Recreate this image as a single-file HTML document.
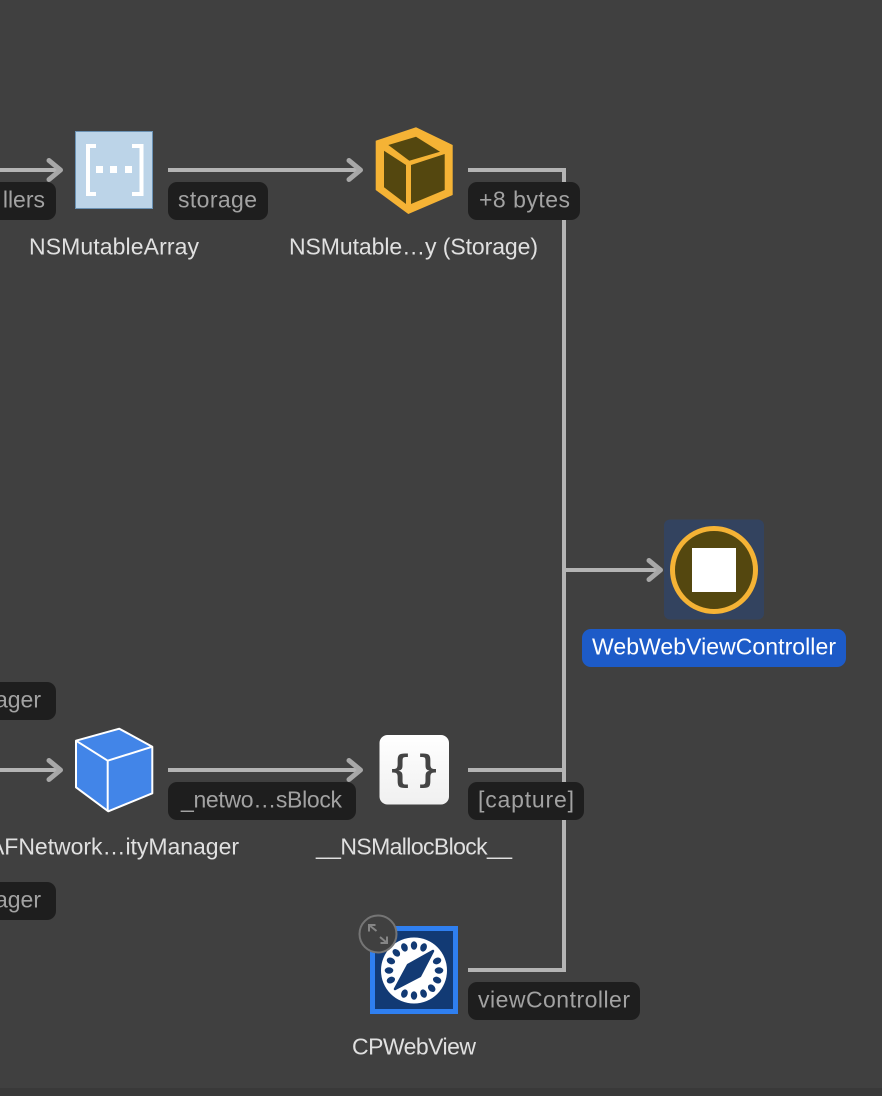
<!DOCTYPE html>
<html>
<head>
<meta charset="utf-8">
<style>
html,body{margin:0;padding:0;background:#404040;width:882px;height:1096px;overflow:hidden}
svg{display:block}
text{font-family:"Liberation Sans",sans-serif;font-size:23px}
.n{fill:#e0e0e0}
.l{fill:#a2a2a2}
.p{fill:#1e1e1e}
.w{fill:none;stroke:#b4b4b4;stroke-width:4}
.h{fill:none;stroke:#a8a8a8;stroke-width:5;stroke-linecap:round;stroke-linejoin:round}
</style>
</head>
<body>
<svg width="882" height="1096" viewBox="0 0 882 1096" xmlns="http://www.w3.org/2000/svg">
<defs>
<linearGradient id="b" x1="0" y1="0" x2="0" y2="1"><stop offset="0" stop-color="#ffffff"/><stop offset="1" stop-color="#f0f0f0"/></linearGradient>
</defs>
<rect width="882" height="1096" fill="#404040"/>
<rect y="1088" width="882" height="8" fill="#393939"/>

<!-- connectors -->
<path class="w" d="M0 170H60"/>
<path class="h" d="M49 160.5L60.5 170L49 179.5"/>
<path class="w" d="M168 170H360"/>
<path class="h" d="M349 160.5L360.5 170L349 179.5"/>
<path class="w" d="M468 170H564V970H468"/>
<path class="w" d="M564 570H660"/>
<path class="h" d="M649 560.5L660.5 570L649 579.5"/>
<path class="w" d="M0 770H60"/>
<path class="h" d="M49 760.5L60.5 770L49 779.5"/>
<path class="w" d="M168 770H360"/>
<path class="h" d="M349 760.5L360.5 770L349 779.5"/>
<path class="w" d="M468 770H564"/>

<!-- NSMutableArray -->
<rect x="75.5" y="131.5" width="77" height="77" fill="#bcd4e8" stroke="#6b92b4" stroke-width="1"/>
<path d="M96 146H88V194H96M132 146H141.5V194H132" fill="none" stroke="#fff" stroke-width="4"/>
<rect x="96" y="166" width="7" height="7" fill="#fff"/>
<rect x="110" y="166" width="7" height="7" fill="#fff"/>
<rect x="125" y="166" width="7" height="7" fill="#fff"/>

<!-- Storage cube -->
<polygon points="416,127.3 452.7,145 452.7,195 408.3,214 375.7,190 375.7,140.7" fill="#f5b335"/>
<polygon points="388.3,145 416,136.7 440,151.7 409.3,160.7" fill="#54470f"/>
<polygon points="384,150.7 406,165 406,204 384,187.3" fill="#54470f"/>
<polygon points="411,165 444.7,154 444.7,190 411,204" fill="#54470f"/>

<!-- WebWebViewController -->
<rect x="664" y="519.5" width="100" height="100" rx="6" fill="#33435f"/>
<circle cx="714" cy="570" r="41.5" fill="#54470f" stroke="#f5b335" stroke-width="5"/>
<rect x="692" y="548" width="44" height="44" fill="#fff"/>
<rect x="582" y="629" width="264" height="38" rx="9" fill="#1d5bc8"/>
<text x="592" y="654.5" fill="#fff" textLength="244" lengthAdjust="spacing">WebWebViewController</text>

<!-- AF cube -->
<polygon points="119.3,728.7 152.3,746.7 152.3,793.3 108.3,811.3 76,787.3 76,740.7" fill="#4285e8" stroke="#fff" stroke-width="2" stroke-linejoin="round"/>
<path d="M76 740.7L107.7 760.7L152.3 746.7M107.7 760.7V811.3" fill="none" stroke="#fff" stroke-width="2"/>

<!-- Block -->
<rect x="379.5" y="735" width="69.5" height="69.5" rx="8" fill="url(#b)"/>
<text x="400" y="782" text-anchor="middle" style="font-family:'DejaVu Sans Mono',monospace;font-size:37px;font-weight:bold" fill="#444">{</text>
<text x="428" y="782" text-anchor="middle" style="font-family:'DejaVu Sans Mono',monospace;font-size:37px;font-weight:bold" fill="#444">}</text>

<!-- CPWebView -->
<rect x="372.5" y="928.5" width="83" height="83" fill="#123a74" stroke="#2f7ff0" stroke-width="5"/>
<circle cx="414" cy="970.5" r="33" fill="#fff"/>
<g fill="#123a74">
<ellipse cx="414" cy="945.5" rx="3.2" ry="4.3"/>
<ellipse cx="414" cy="945.5" rx="3.2" ry="4.3" transform="rotate(22.5 414 970.5)"/>
<ellipse cx="414" cy="945.5" rx="3.2" ry="4.3" transform="rotate(67.5 414 970.5)"/>
<ellipse cx="414" cy="945.5" rx="3.2" ry="4.3" transform="rotate(90 414 970.5)"/>
<ellipse cx="414" cy="945.5" rx="3.2" ry="4.3" transform="rotate(112.5 414 970.5)"/>
<ellipse cx="414" cy="945.5" rx="3.2" ry="4.3" transform="rotate(135 414 970.5)"/>
<ellipse cx="414" cy="945.5" rx="3.2" ry="4.3" transform="rotate(157.5 414 970.5)"/>
<ellipse cx="414" cy="945.5" rx="3.2" ry="4.3" transform="rotate(180 414 970.5)"/>
<ellipse cx="414" cy="945.5" rx="3.2" ry="4.3" transform="rotate(202.5 414 970.5)"/>
<ellipse cx="414" cy="945.5" rx="3.2" ry="4.3" transform="rotate(247.5 414 970.5)"/>
<ellipse cx="414" cy="945.5" rx="3.2" ry="4.3" transform="rotate(270 414 970.5)"/>
<ellipse cx="414" cy="945.5" rx="3.2" ry="4.3" transform="rotate(292.5 414 970.5)"/>
<ellipse cx="414" cy="945.5" rx="3.2" ry="4.3" transform="rotate(315 414 970.5)"/>
<ellipse cx="414" cy="945.5" rx="3.2" ry="4.3" transform="rotate(337.5 414 970.5)"/>
<polygon points="433,951 420,976 395,989 408,965" stroke="#123a74" stroke-width="2.5" stroke-linejoin="round"/>
</g>
<circle cx="378" cy="934" r="18.5" fill="#404040" stroke="#757575" stroke-width="2"/>
<path d="M369 925L376.5 931M369 931.5V925H375.5M387 943L380 937M387 936.5V943H380.5" fill="none" stroke="#858585" stroke-width="2"/>

<!-- edge labels -->
<rect x="-20" y="182" width="76" height="38" rx="9" class="p"/>
<text x="45" y="207.5" text-anchor="end" class="l">llers</text>
<rect x="168" y="182" width="100" height="38" rx="9" class="p"/>
<text x="178" y="207.5" class="l" textLength="79" lengthAdjust="spacing">storage</text>
<rect x="468" y="182" width="112" height="38" rx="9" class="p"/>
<text x="479" y="207.5" class="l" textLength="91" lengthAdjust="spacing">+8 bytes</text>
<rect x="-20" y="682" width="76" height="38" rx="9" class="p"/>
<text x="41" y="707.5" text-anchor="end" class="l">ager</text>
<rect x="168" y="782" width="188" height="38" rx="9" class="p"/>
<text x="181" y="807.5" class="l" textLength="161" lengthAdjust="spacing">_netwo…sBlock</text>
<rect x="468" y="782" width="116" height="38" rx="9" class="p"/>
<text x="478" y="807.5" class="l" textLength="96" lengthAdjust="spacing">[capture]</text>
<rect x="-20" y="882" width="76" height="38" rx="9" class="p"/>
<text x="41" y="907.5" text-anchor="end" class="l">ager</text>
<rect x="468" y="982" width="172" height="38" rx="9" class="p"/>
<text x="478" y="1007.5" class="l" textLength="152" lengthAdjust="spacing">viewController</text>

<!-- node labels -->
<text x="29" y="254.5" class="n" textLength="170" lengthAdjust="spacing">NSMutableArray</text>
<text x="289" y="254.5" class="n" textLength="249" lengthAdjust="spacing">NSMutable…y (Storage)</text>
<text x="-11" y="854.5" class="n" textLength="250" lengthAdjust="spacing">AFNetwork…ityManager</text>
<text x="316" y="854.5" class="n" textLength="196" lengthAdjust="spacing">__NSMallocBlock__</text>
<text x="352" y="1054.5" class="n" textLength="124" lengthAdjust="spacing">CPWebView</text>
</svg>
</body>
</html>
